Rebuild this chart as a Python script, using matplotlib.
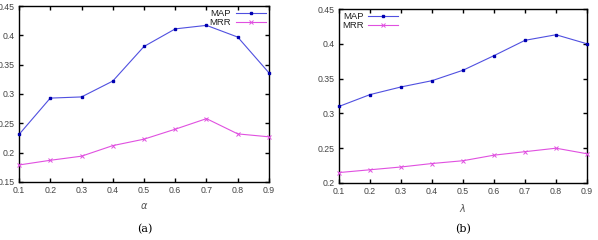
import matplotlib
matplotlib.use("Agg")
import matplotlib.pyplot as plt

x = [0.1, 0.2, 0.3, 0.4, 0.5, 0.6, 0.7, 0.8, 0.9]
xticklabels = ["0.1", "0.2", "0.3", "0.4", "0.5", "0.6", "0.7", "0.8", "0.9"]
map_a = [0.231, 0.293, 0.295, 0.322, 0.381, 0.411, 0.417, 0.397, 0.336]
mrr_a = [0.179, 0.187, 0.194, 0.212, 0.223, 0.240, 0.258, 0.232, 0.227]
map_b = [0.310, 0.327, 0.338, 0.347, 0.362, 0.383, 0.405, 0.413, 0.400]
mrr_b = [0.215, 0.219, 0.223, 0.228, 0.232, 0.240, 0.245, 0.250, 0.242]
yticks_a = [0.15, 0.2, 0.25, 0.3, 0.35, 0.4, 0.45]
yticklabels_a = ["0.15", "0.2", "0.25", "0.3", "0.35", "0.4", "0.45"]
yticks_b = [0.2, 0.25, 0.3, 0.35, 0.4, 0.45]
yticklabels_b = ["0.2", "0.25", "0.3", "0.35", "0.4", "0.45"]

plt.rcParams["font.family"] = ["Liberation Sans", "DejaVu Sans"]

fig = plt.figure(figsize=(5.98, 2.4), dpi=100)
ax1 = fig.add_axes([0.0318, 0.2417, 0.418, 0.7333])
ax2 = fig.add_axes([0.5669, 0.2375, 0.4147, 0.725])

blue_line = "#5050e0"
blue_mark = "#0000b0"
mag = "#e050e0"


def draw(ax, ymap, ymrr, yt, ytl, ylim, xlabel, loc, left_text):
    ax.plot(x, ymap, color=blue_line, lw=0.8, marker="s", ms=2.0,
            mfc=blue_mark, mec=blue_mark, label="MAP", clip_on=False, zorder=3)
    ax.plot(x, ymrr, color=mag, lw=0.8, marker="x", ms=2.2, mew=0.7,
            mec=mag, label="MRR", clip_on=False, zorder=3)
    ax.set_xlim(0.1, 0.9)
    ax.set_ylim(*ylim)
    ax.set_xticks(x)
    ax.set_xticklabels(xticklabels)
    ax.set_yticks(yt)
    ax.set_yticklabels(ytl)
    ax.tick_params(direction="in", top=True, right=True, length=3, width=1,
                   labelsize=6.3, labelcolor="#444444", pad=3)
    for s in ax.spines.values():
        s.set_linewidth(1.0)
    ax.set_xlabel(xlabel, fontsize=7, color="#555555", labelpad=4,
                  family="DejaVu Serif")
    leg = ax.legend(loc=loc, frameon=False, fontsize=6.8, markerfirst=False,
                    handlelength=3.2, handletextpad=0.5, labelspacing=0.05,
                    borderaxespad=0.2, borderpad=0.1)
    for t in leg.get_texts():
        t.set_color("#222222")
        if left_text:
            t.set_ha("left")


draw(ax1, map_a, mrr_a, yticks_a, yticklabels_a, (0.15, 0.45), r"$\alpha$",
     "upper right", False)
draw(ax2, map_b, mrr_b, yticks_b, yticklabels_b, (0.2, 0.45), r"$\lambda$",
     "upper left", True)

fig.text(0.2425, 0.045, "(a)", fontsize=8, family="DejaVu Serif", ha="center", va="center")
fig.text(0.7745, 0.045, "(b)", fontsize=8, family="DejaVu Serif", ha="center", va="center")

fig.savefig("out.png", dpi=100)
